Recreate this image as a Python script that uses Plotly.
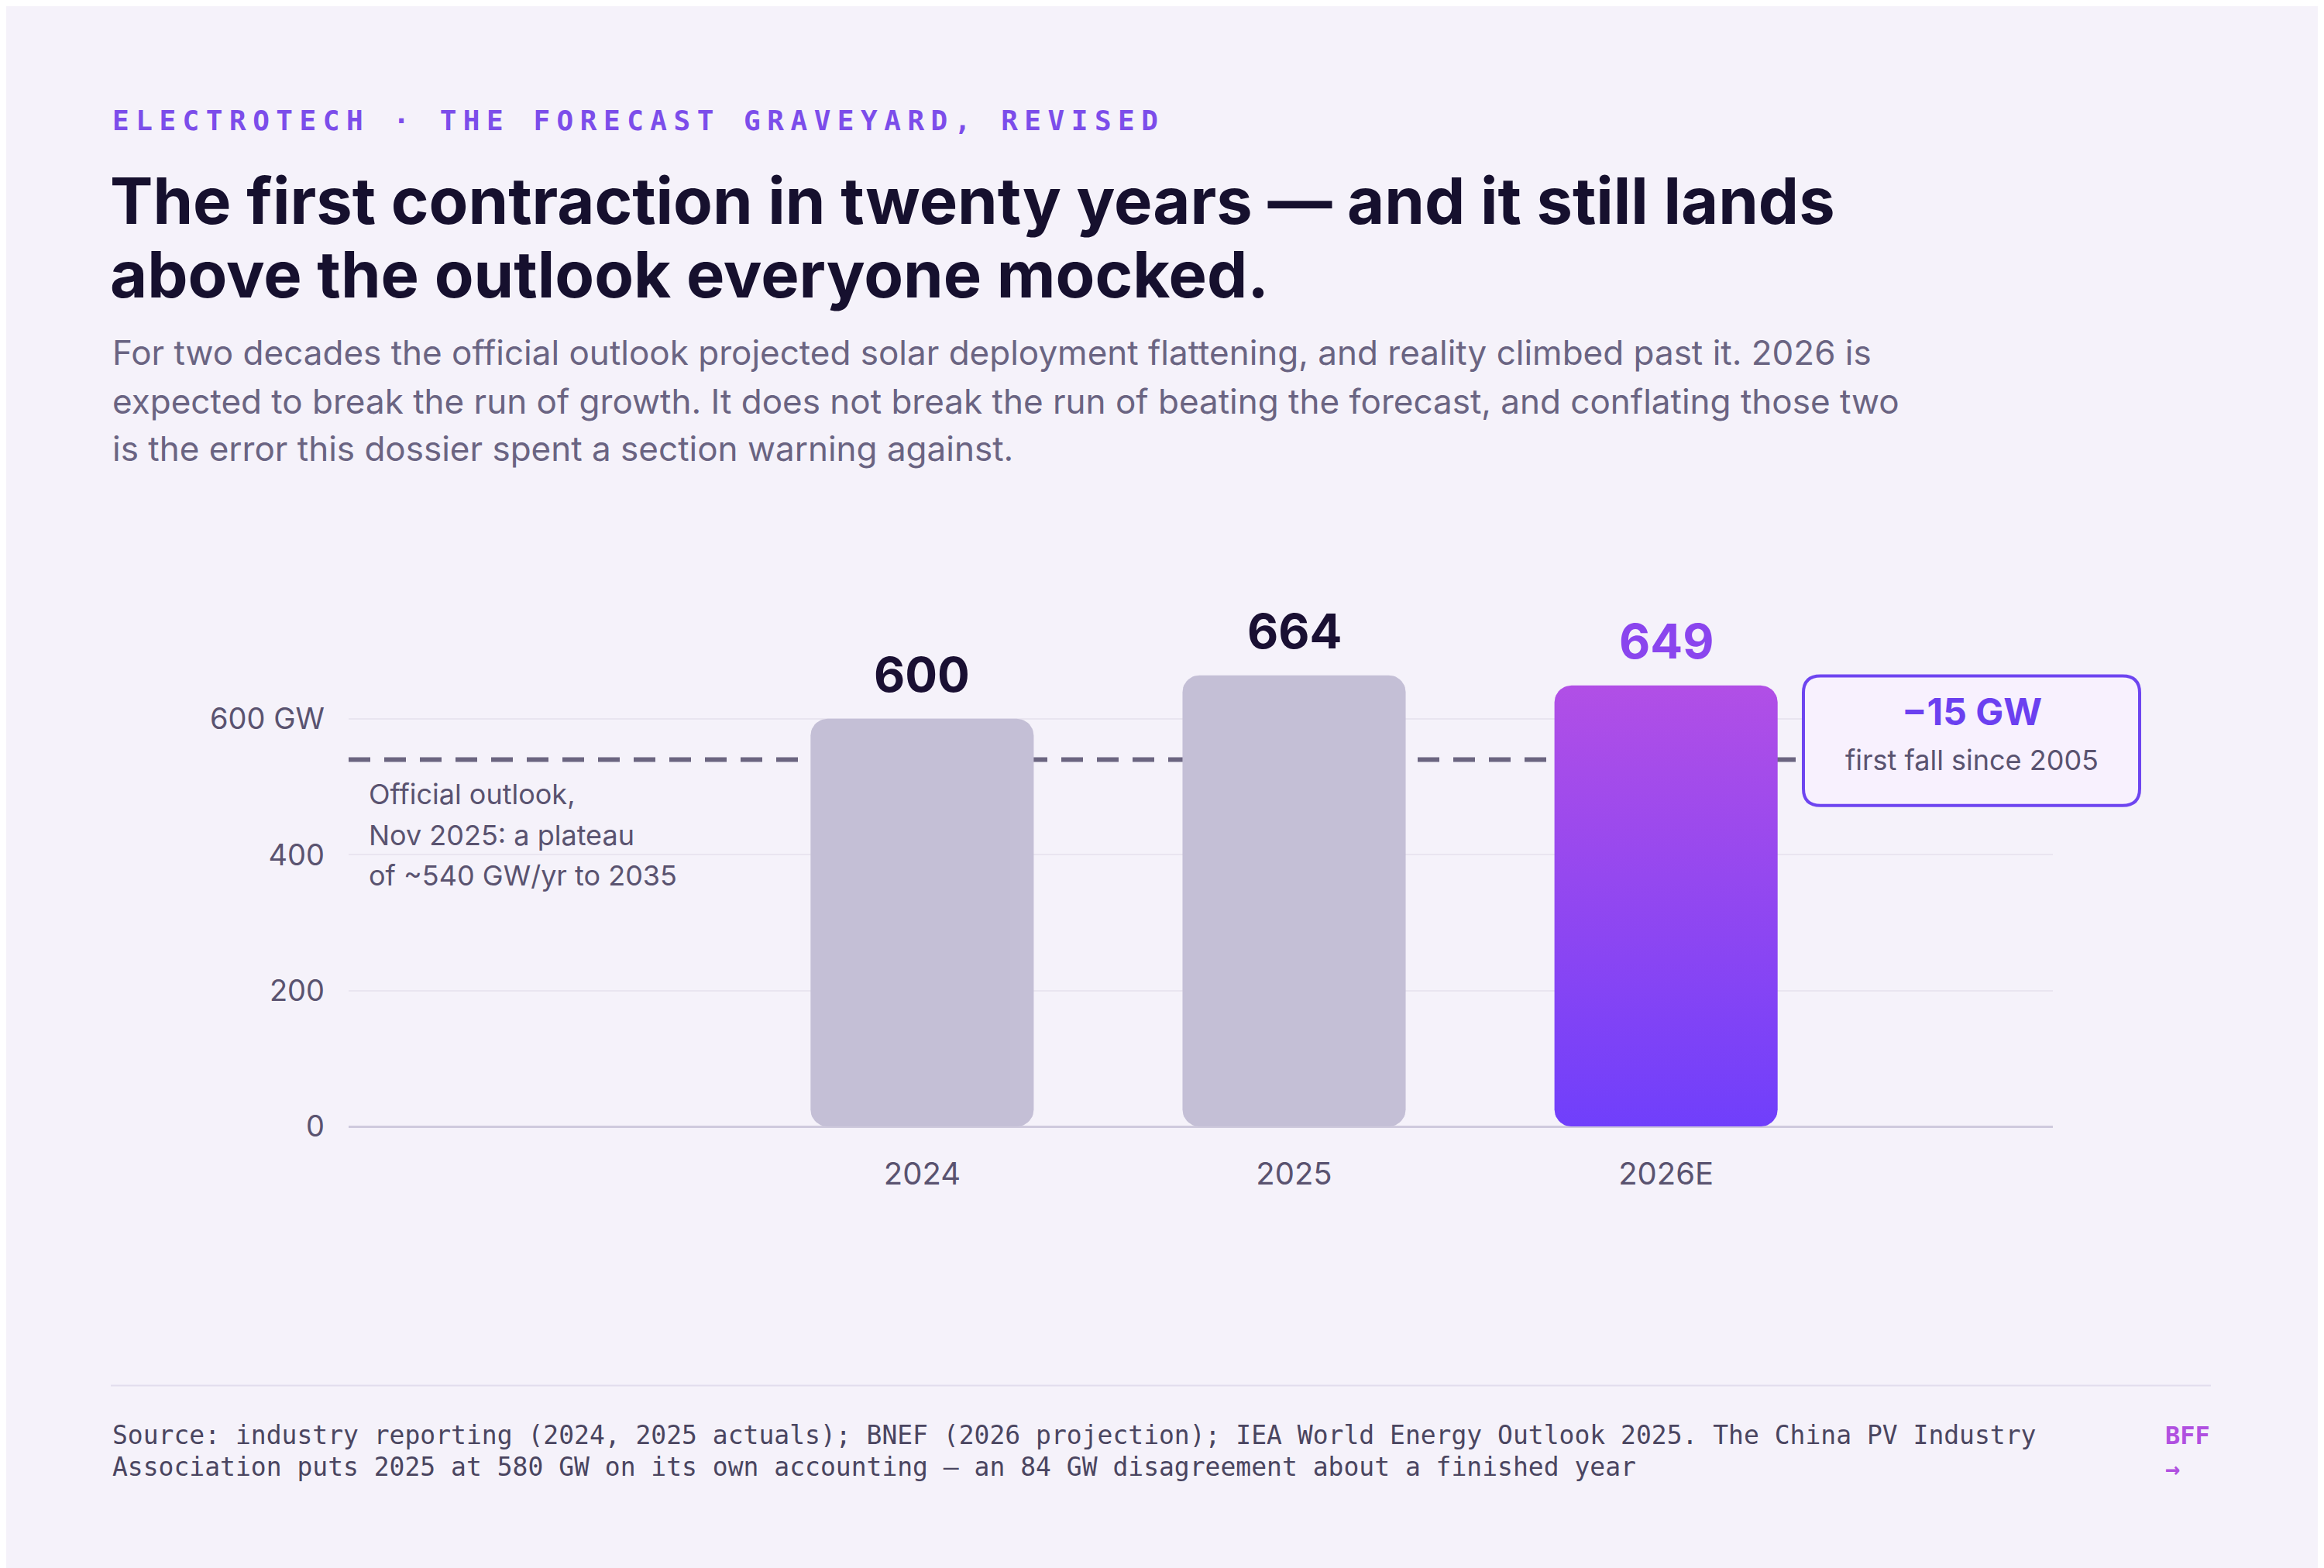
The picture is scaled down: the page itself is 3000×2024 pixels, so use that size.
import numpy as np
import plotly.graph_objects as go

categories = ["2024", "2025", "2026E"]
values = [600, 664, 649]
outlook_level = 540
y_ticks = [0, 200, 400, 600]
y_tick_labels = ["0", "200", "400", "600 GW"]

W, H = 3000, 2024
PX0, PX1 = 442, 2642          # plot area pixels (x)
PY0, PY1 = 788, 1462          # plot area pixels (top, bottom)
XR = [-1.542, 3.04]
YR = [0, 760]
BW = 0.6
ux = (PX1 - PX0) / (XR[1] - XR[0])
uy = (PY1 - PY0) / (YR[1] - YR[0])

def xp(px): return px / W
def yp(py): return 1 - py / H

def rounded_bar(xc, v, r_px=22):
    rx, ry = r_px / ux, r_px / uy
    x0, x1 = xc - BW / 2, xc + BW / 2
    xs, ys = [], []
    def arc(cx, cy, a0, a1):
        for t in np.linspace(a0, a1, 12):
            xs.append(cx + rx * np.cos(t)); ys.append(cy + ry * np.sin(t))
    arc(x1 - rx, v - ry, 0, np.pi / 2)
    arc(x0 + rx, v - ry, np.pi / 2, np.pi)
    arc(x0 + rx, ry, np.pi, 1.5 * np.pi)
    arc(x1 - rx, ry, 1.5 * np.pi, 2 * np.pi)
    xs.append(xs[0]); ys.append(ys[0])
    return xs, ys

fig = go.Figure()
fig.add_trace(go.Scatter(x=[XR[0], XR[1]], y=[outlook_level, outlook_level], mode="lines",
                         line=dict(color="#6b6580", width=6, dash="28px,18px"),
                         hoverinfo="skip", showlegend=False))
for i, (c, v) in enumerate(zip(categories, values)):
    xs, ys = rounded_bar(i, v)
    if i < 2:
        fig.add_trace(go.Scatter(x=xs, y=ys, fill="toself", fillcolor="#c4bfd6",
                                 line=dict(width=0), mode="lines", showlegend=False, hoverinfo="skip"))
    else:
        fig.add_trace(go.Scatter(x=xs, y=ys, fill="toself", mode="lines",
                                 fillgradient=dict(type="vertical",
                                                   colorscale=[[0, "#703ffb"], [1, "#b14fe6"]]),
                                 line=dict(width=0), showlegend=False, hoverinfo="skip"))
    fig.add_annotation(x=i, y=v, text=f"<b>{v}</b>", showarrow=False, yanchor="bottom", yshift=18,
                       font=dict(size=62, color="#8a45ee" if i == 2 else "#1a1033", family="Inter"))

fig.update_xaxes(range=XR, tickvals=list(range(len(categories))), ticktext=categories,
                 showgrid=False, zeroline=False, showline=False, ticks="", ticklabelstandoff=34,
                 tickfont=dict(size=40, color="#5a5370", family="Inter"), domain=[xp(PX0), xp(PX1)])
fig.update_yaxes(range=YR, tickvals=y_ticks, ticktext=y_tick_labels, showgrid=True,
                 gridcolor="#e9e5f0", gridwidth=2, zeroline=True, zerolinecolor="#cfcadd", zerolinewidth=3,
                 ticks="", ticklabelstandoff=30, tickfont=dict(size=38, color="#5a5370", family="Inter"),
                 domain=[yp(PY1), yp(PY0)])

A = lambda **k: fig.add_annotation(xref="paper", yref="paper", showarrow=False, xanchor="left", **k)
eyebrow = "ELECTROTECH · THE FORECAST GRAVEYARD, REVISED"
gap = "<span style='font-family:Inter'>\u2009\u200a</span>"
A(x=xp(135), y=yp(124), text="<b>" + gap.join(eyebrow) + "</b>",
  font=dict(size=36, color="#7c4dea", family="DejaVu Sans Mono"))
for ypx, t in [(201, "The first contraction in twenty years — and it still lands"),
               (297, "above the outlook everyone mocked.")]:
    A(x=xp(132), y=yp(ypx), text="<b>" + t + "</b>", font=dict(size=83, color="#16102e", family="Inter"))
for ypx, t in [(423, "For two decades the official outlook projected solar deployment flattening, and reality climbed past it. 2026 is"),
               (486, "expected to break the run of growth. It does not break the run of beating the forecast, and conflating those two"),
               (548, "is the error this dossier spent a section warning against.")]:
    A(x=xp(135), y=yp(ypx), text=t, font=dict(size=44, color="#6a6482", family="Inter"))
for ypx, t in [(1028, "Official outlook,"), (1082, "Nov 2025: a plateau"), (1134, "of ~540 GW/yr to 2035")]:
    A(x=xp(466), y=yp(ypx), text=t, font=dict(size=36, color="#5a5370", family="Inter"))
for ypx, t in [(1886, "Source: industry reporting (2024, 2025 actuals); BNEF (2026 projection); IEA World Energy Outlook 2025. The China PV Industry"),
               (1928, "Association puts 2025 at 580 GW on its own accounting — an 84 GW disagreement about a finished year")]:
    A(x=xp(135), y=yp(ypx), text=t, font=dict(size=33, color="#4a4560", family="DejaVu Sans Mono"))
A(x=xp(2785), y=yp(1886), text="<b>BFF</b>", font=dict(size=32, color="#b050e0", family="DejaVu Sans Mono"))
A(x=xp(2785), y=yp(1930), text="<b>→</b>", font=dict(size=32, color="#b050e0", family="DejaVu Sans Mono"))

fig.add_shape(type="line", xref="paper", yref="paper", x0=xp(135), x1=xp(2846), y0=yp(1800), y1=yp(1800),
              line=dict(color="#e2dded", width=2))
bx0, bx1, by0, by1, r = 2320, 2754, 874, 1043, 22
def P(x, y): return f"{xp(x):.5f},{yp(y):.5f}"
path = (f"M {P(bx0+r,by0)} L {P(bx1-r,by0)} Q {P(bx1,by0)} {P(bx1,by0+r)} L {P(bx1,by1-r)} "
        f"Q {P(bx1,by1)} {P(bx1-r,by1)} L {P(bx0+r,by1)} Q {P(bx0,by1)} {P(bx0,by1-r)} "
        f"L {P(bx0,by0+r)} Q {P(bx0,by0)} {P(bx0+r,by0)} Z")
fig.add_shape(type="path", xref="paper", yref="paper", path=path, fillcolor="#f8f1fe",
              line=dict(color="#6e45f0", width=4), layer="above")
cx = (bx0 + bx1) / 2
fig.add_annotation(xref="paper", yref="paper", x=xp(cx), y=yp(920), showarrow=False, xanchor="center",
                   text="<b>−15 GW</b>", font=dict(size=48, color="#6b40f0", family="Inter"))
fig.add_annotation(xref="paper", yref="paper", x=xp(cx), y=yp(984), showarrow=False, xanchor="center",
                   text="first fall since 2005", font=dict(size=36, color="#5a5370", family="Inter"))

fig.update_layout(width=W, height=H, margin=dict(l=0, r=0, t=0, b=0),
                  paper_bgcolor="#f5f2fa", plot_bgcolor="rgba(0,0,0,0)", showlegend=False)
fig.write_html("out.html")
